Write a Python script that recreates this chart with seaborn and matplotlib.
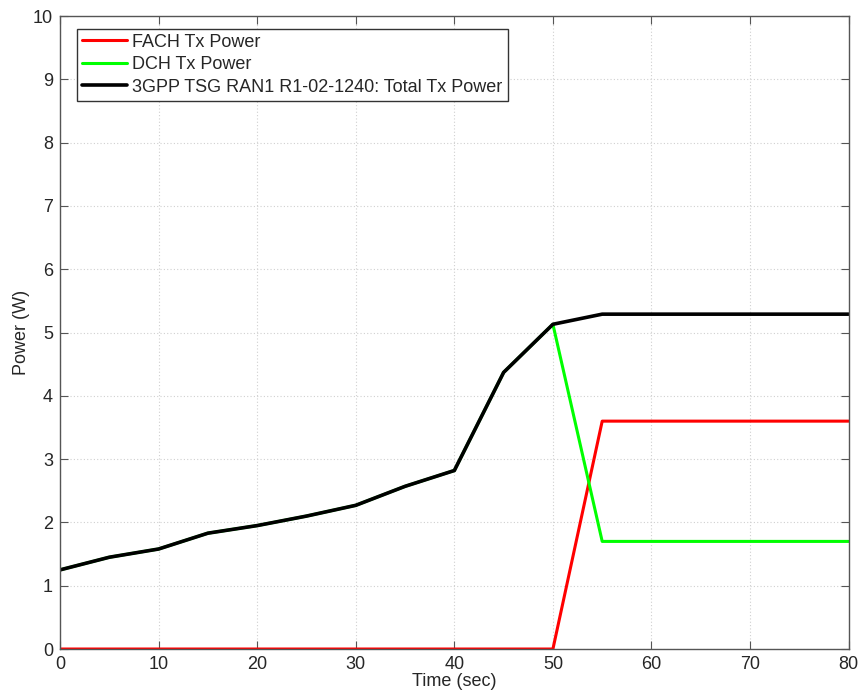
import matplotlib
matplotlib.use("Agg")
import pandas as pd
import seaborn as sns
from matplotlib import pyplot as plt

time_sec = [0, 5, 10, 15, 20, 25, 30, 35, 40, 45, 50, 55, 60, 65, 70, 75, 80]
fach_power = [0, 0, 0, 0, 0, 0, 0, 0, 0, 0, 0, 3.6, 3.6, 3.6, 3.6, 3.6, 3.6]
dch_power = [1.25, 1.45, 1.58, 1.83, 1.95, 2.1, 2.27, 2.57, 2.82, 4.37, 5.13,
             1.7, 1.7, 1.7, 1.7, 1.7, 1.7]
total_power = [1.25, 1.45, 1.58, 1.83, 1.95, 2.1, 2.27, 2.57, 2.82, 4.37, 5.13,
               5.29, 5.29, 5.29, 5.29, 5.29, 5.29]

series_names = ["FACH Tx Power", "DCH Tx Power",
                "3GPP TSG RAN1 R1-02-1240: Total Tx Power"]
series_colors = ["#ff0000", "#00ff00", "#000000"]

sns.set_style("ticks")
plt.rcParams["font.family"] = ["Liberation Sans", "DejaVu Sans"]

df = pd.DataFrame({"time": time_sec * 3,
                   "power": fach_power + dch_power + total_power,
                   "series": [series_names[0]] * len(time_sec)
                   + [series_names[1]] * len(time_sec)
                   + [series_names[2]] * len(time_sec)})

fig = plt.figure(figsize=(8.6, 6.96), dpi=100)
ax = fig.add_axes([0.0698, 0.0675, 0.917, 0.9095])

for name, color in zip(series_names, series_colors):
    sub = df[df["series"] == name]
    sns.lineplot(data=sub, x="time", y="power", color=color, label=name,
                 linewidth=2.6 if color == "#000000" else 2.2, ax=ax,
                 solid_joinstyle="round")

ax.set_xlim(0, 80)
ax.set_ylim(0, 10)
ax.set_xticks(range(0, 81, 10))
ax.set_yticks(range(0, 11))
ax.grid(True, linestyle=(0, (1, 2)), color="#d0d0d0", linewidth=0.8)
ax.tick_params(direction="in", top=True, right=True, labelsize=13,
               length=6, color="#555555", pad=5)
for s in ax.spines.values():
    s.set_color("#555555")
    s.set_linewidth(1)
ax.set_xlabel("Time (sec)", fontsize=13, labelpad=0)
ax.set_ylabel("Power (W)", fontsize=13, labelpad=2)

leg = ax.legend(loc="upper left", bbox_to_anchor=(0.021, 0.98), fontsize=13,
                frameon=True, fancybox=False, handlelength=2.5,
                borderpad=0.28, labelspacing=0.3, handletextpad=0.3,
                borderaxespad=0.0)
leg.get_frame().set_edgecolor("#333333")
leg.get_frame().set_linewidth(1)
leg.get_frame().set_alpha(1)

fig.savefig("out.png", dpi=100)
